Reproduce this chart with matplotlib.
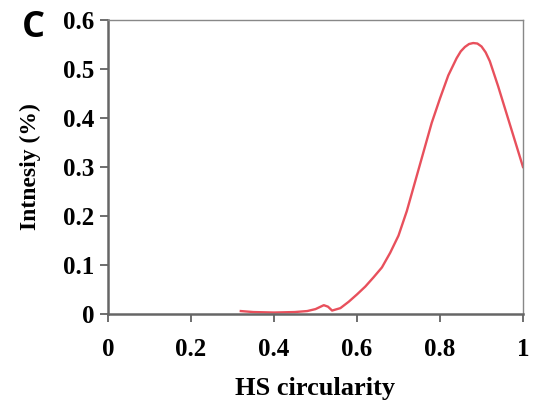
import matplotlib
matplotlib.use("Agg")
import matplotlib.pyplot as plt

circularity = [0.32, 0.35, 0.40, 0.45, 0.48, 0.50, 0.51, 0.52, 0.53, 0.54, 0.56, 0.58,
               0.60, 0.62, 0.64, 0.66, 0.68, 0.70, 0.72, 0.74, 0.76, 0.78, 0.80,
               0.82, 0.84, 0.85, 0.86, 0.87, 0.88, 0.89, 0.90, 0.91, 0.92, 0.94,
               0.96, 0.98, 1.00]
intensity = [0.006, 0.004, 0.003, 0.004, 0.006, 0.010, 0.014, 0.018, 0.015, 0.007, 0.012, 0.025,
             0.040, 0.056, 0.075, 0.095, 0.125, 0.160, 0.210, 0.270, 0.330, 0.390, 0.440,
             0.487, 0.522, 0.536, 0.545, 0.551, 0.553, 0.552, 0.546, 0.534, 0.516, 0.465,
             0.410, 0.355, 0.300]
xticks = [0, 0.2, 0.4, 0.6, 0.8, 1]
xticklabels = ["0", "0.2", "0.4", "0.6", "0.8", "1"]
yticks = [0, 0.1, 0.2, 0.3, 0.4, 0.5, 0.6]
yticklabels = ["0", "0.1", "0.2", "0.3", "0.4", "0.5", "0.6"]

serif = ["Liberation Serif", "DejaVu Serif"]
fig = plt.figure(figsize=(5.34, 4.17), dpi=100)
ax = fig.add_axes([108/534, 1-314/417, (523-108)/534, (314-20)/417])
ax.plot(circularity, intensity, color="#e8505c", lw=1.7, solid_joinstyle="round")
ax.set_xlim(0, 1)
ax.set_ylim(0, 0.6)
ax.set_xticks(xticks)
ax.set_xticklabels(xticklabels, family=serif, fontweight="bold", fontsize=18)
ax.set_yticks(yticks)
ax.set_yticklabels(yticklabels, family=serif, fontweight="bold", fontsize=18)
ax.tick_params(direction="out", length=6, width=1.2, color="#555555", pad=4)
ax.tick_params(axis="x", pad=11)
for s in ["left", "bottom"]:
    ax.spines[s].set_color("#666666")
    ax.spines[s].set_linewidth(1.8)
for s in ["top", "right"]:
    ax.spines[s].set_color("#888888")
    ax.spines[s].set_linewidth(1.0)
ax.set_xlabel("HS circularity", family=serif, fontweight="bold", fontsize=19, labelpad=12)
ax.set_ylabel("Intnesiy (%)", family=serif, fontweight="bold", fontsize=17, labelpad=16)
fig.text(22/534, 1-37/417, "C", family=["Open Sans", "DejaVu Sans"], fontweight="bold",
         fontsize=26, ha="left", va="baseline")
fig.savefig("out.png", dpi=100)
